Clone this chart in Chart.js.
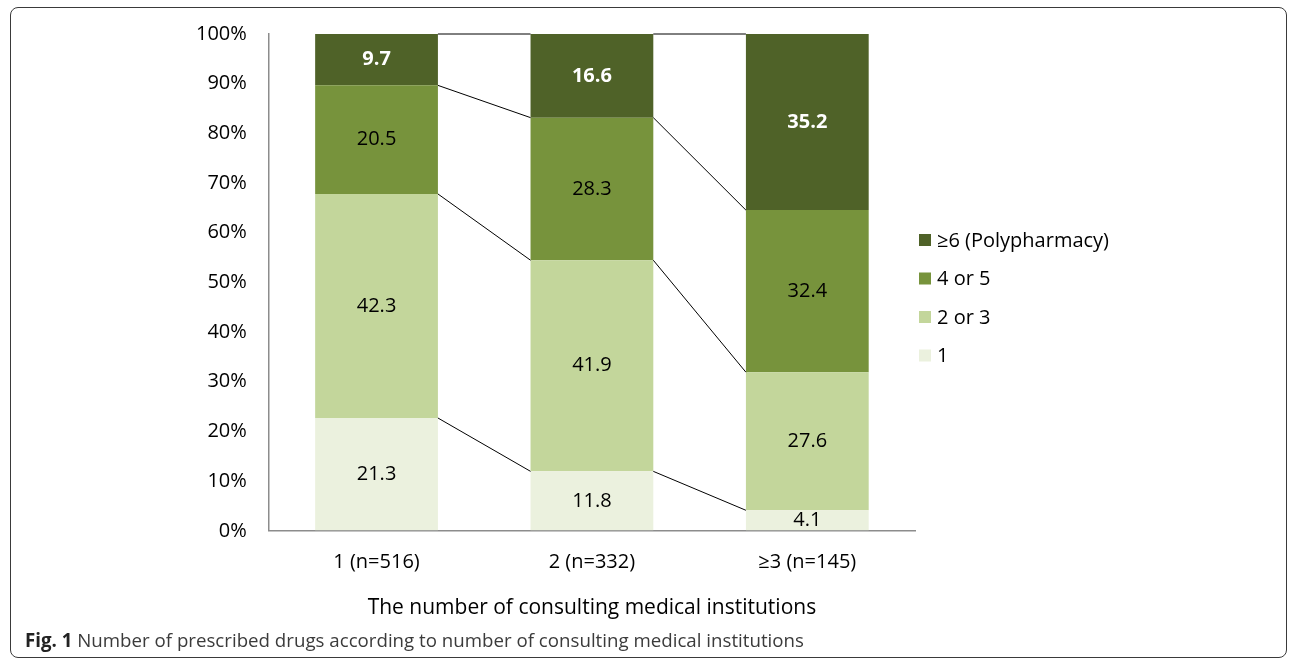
<!DOCTYPE html>
<html>
<head>
<meta charset="utf-8">
<script src="https://cdn.jsdelivr.net/npm/chart.js@4.4.1/dist/chart.umd.min.js"></script>
<style>
  body { margin: 0; background: #fff; }
  #wrap { position: relative; width: 1290px; height: 660px; overflow: hidden; }
  #c { position: absolute; left: 0; top: 0; }
  #frame { position: absolute; left: 10px; top: 7px; width: 1275px; height: 649px;
    border: 1.5px solid #3a3a3a; border-radius: 8px; pointer-events: none; }
  #caption { position: absolute; left: 25px; top: 627px; font-family: "Open Sans", sans-serif;
    font-size: 18.7px; color: #3b3b3b; white-space: nowrap; }
  #caption b { color: #222; }
</style>
</head>
<body>
<div id="wrap">
  <canvas id="c" width="1290" height="660"></canvas>
  <div id="frame"></div>
  <div id="caption"><b>Fig. 1</b> Number of prescribed drugs according to number of consulting medical institutions</div>
</div>
<script>
const categories = ['1 (n=516)', '2 (n=332)', '≥3 (n=145)'];
const seriesNames = ['1', '2 or 3', '4 or 5', '≥6 (Polypharmacy)'];
const seriesColors = ['#EBF1DE', '#C3D69B', '#77933C', '#4F6228'];
const one = [21.3, 11.8, 4.1];
const twoOrThree = [42.3, 41.9, 27.6];
const fourOrFive = [20.5, 28.3, 32.4];
const sixPlus = [9.7, 16.6, 35.2];
const yTicks = [0, 10, 20, 30, 40, 50, 60, 70, 80, 90, 100];
const xTitle = 'The number of consulting medical institutions';

const FONT = '"Open Sans", sans-serif';
const rawSeries = [one, twoOrThree, fourOrFive, sixPlus];

// 100% stacked: each column is scaled to its own total
const totals = categories.map((c, j) => rawSeries.reduce((s, arr) => s + arr[j], 0));

const datasets = rawSeries.map((arr, i) => ({
  label: seriesNames[i],
  raw: arr,
  data: arr.map((v, j) => v / totals[j] * 100),
  backgroundColor: seriesColors[i],
  borderWidth: 0,
  barPercentage: 0.57,
  categoryPercentage: 1.0,
}));

const connectors = {
  id: 'connectors',
  afterDatasetsDraw(chart) {
    const ctx = chart.ctx;
    ctx.save();
    ctx.strokeStyle = '#000';
    ctx.lineWidth = 1;
    chart.data.datasets.forEach((ds, i) => {
      const bars = chart.getDatasetMeta(i).data;
      for (let j = 0; j < bars.length - 1; j++) {
        const a = bars[j], b = bars[j + 1];
        ctx.beginPath();
        ctx.moveTo(a.x + a.width / 2, a.y);
        ctx.lineTo(b.x - b.width / 2, b.y);
        ctx.stroke();
      }
    });
    ctx.restore();
  }
};

const valueLabels = {
  id: 'valueLabels',
  afterDatasetsDraw(chart) {
    const ctx = chart.ctx;
    ctx.save();
    ctx.textAlign = 'center';
    ctx.textBaseline = 'middle';
    chart.data.datasets.forEach((ds, i) => {
      const top = i === chart.data.datasets.length - 1;
      ctx.fillStyle = top ? '#fff' : '#000';
      ctx.font = (top ? 'bold ' : '') + '20px ' + FONT;
      chart.getDatasetMeta(i).data.forEach((bar, j) => {
        ctx.fillText(ds.raw[j].toFixed(1), bar.x, (bar.y + bar.base) / 2);
      });
    });
    ctx.restore();
  }
};

const sideLegend = {
  id: 'sideLegend',
  afterDraw(chart) {
    const ctx = chart.ctx;
    const area = chart.chartArea;
    const x = area.right + 4;
    ctx.save();
    ctx.font = '20px ' + FONT;
    ctx.textBaseline = 'middle';
    ctx.textAlign = 'left';
    const list = chart.data.datasets.slice().reverse();
    list.forEach((ds, k) => {
      const cy = area.top + 206 + k * 38.5;
      ctx.fillStyle = ds.backgroundColor;
      ctx.fillRect(x, cy - 6, 12, 12);
      ctx.fillStyle = '#000';
      ctx.fillText(ds.label, x + 18, cy + 1);
    });
    ctx.restore();
  }
};

new Chart(document.getElementById('c'), {
  type: 'bar',
  data: { labels: categories, datasets: datasets },
  plugins: [connectors, valueLabels, sideLegend],
  options: {
    responsive: false,
    animation: false,
    layout: { padding: { left: 174, right: 375, top: 22, bottom: 39 } },
    plugins: {
      legend: { display: false },
      tooltip: { enabled: false },
    },
    scales: {
      x: {
        stacked: true,
        grid: { display: true, drawOnChartArea: false, drawTicks: false },
        border: { display: true, color: '#8c8c8c', width: 1.5 },
        ticks: { color: '#000', padding: 19, font: { family: FONT, size: 20 } },
        title: { display: true, text: xTitle, color: '#000', padding: { top: 3, bottom: 0 },
          font: { family: FONT, size: 21 } },
      },
      y: {
        stacked: true,
        min: 0,
        max: 100,
        afterBuildTicks(scale) { scale.ticks = yTicks.map(v => ({ value: v })); },
        grid: { display: true, drawOnChartArea: false, drawTicks: false },
        border: { display: true, color: '#8c8c8c', width: 1.5 },
        ticks: { color: '#000', padding: 22, font: { family: FONT, size: 20 },
          callback: v => v + '%' },
      },
    },
  },
});
</script>
</body>
</html>
